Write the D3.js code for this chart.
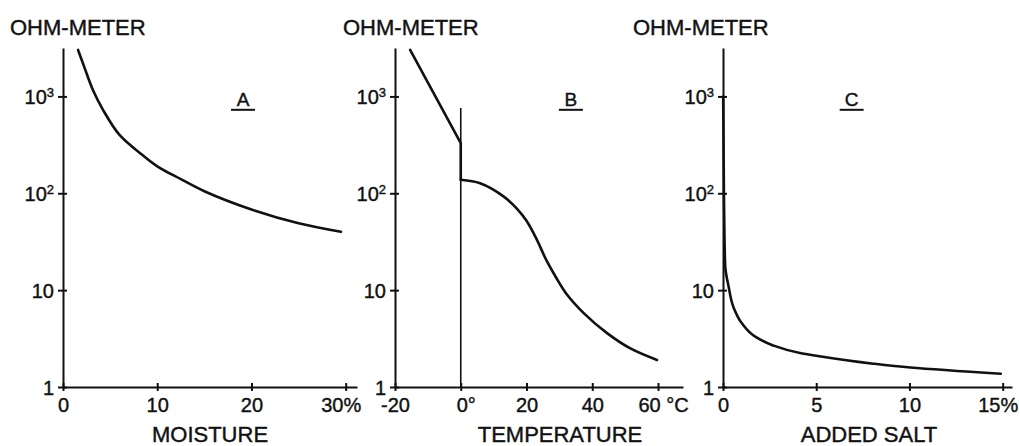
<!DOCTYPE html>
<html>
<head>
<meta charset="utf-8">
<script src="https://cdn.jsdelivr.net/npm/d3@7"></script>
<style>
  html, body { margin: 0; padding: 0; background: #fff; }
  svg { display: block; font-family: "Liberation Sans", Arial, Helvetica, sans-serif; }
  svg text { fill: #111; stroke: #111; stroke-width: 0.4px; }
  .axis path, .axis line { stroke: #111; stroke-width: 2; }
  .axis text { font-size: 20px; }
</style>
</head>
<body>
<svg id="chart"></svg>
<script>
// Soil resistivity vs. moisture / temperature / added salt (three log panels)

// ── Data ───────────────────────────────────────────────────────────────────
const moisturePct = [1.6, 2.3, 3.2, 4.2, 6.0, 8.5, 10, 12.5, 15, 20, 25, 29.5];
const resistMoisture = [3020, 1960, 1150, 740, 400, 245, 190, 140, 105, 68, 49, 40];

// frozen branch (straight on log scale) then drop at 0°
const tempFrozen = [-15.4, 0, 0];
const resistFrozen = [3020, 330, 138];
const tempThawed = [0, 5.9, 13, 17, 20, 23, 26, 29, 32, 37.4, 44.5, 51.6, 59.7];
const resistThawed = [138, 127, 93, 70, 52, 34, 20.5, 13.5, 9.3, 5.8, 3.6, 2.5, 1.9];
const freezeLineTop = 760;

const saltPct = [0.01, 0.05, 0.08, 0.12, 0.30, 0.57, 1.02, 1.73, 2.62, 4.19, 5.0, 8.06, 10.05, 14.9];
const resistSalt = [1000, 100, 35, 17.5, 10.9, 6.6, 4.53, 3.31, 2.72, 2.23, 2.1, 1.74, 1.59, 1.37];

const yTickValues = [1, 10, 100, 1000];
const yTickBase = ['1', '10', '10', '10'];
const yTickExp = ['', '', '2', '3'];

const moistureTicks = [0, 10, 20, 30];
const moistureTickLabels = ['0', '10', '20', '30%'];
const tempTicks = [-20, 0, 20, 40, 60];
const tempTickLabels = ['-20', '0°', '20', '40', '60 °C'];
const saltTicks = [0, 5, 10, 15];
const saltTickLabels = ['0', '5', '10', '15%'];

const panelLetters = ['A', 'B', 'C'];
const axisTitles = ['MOISTURE', 'TEMPERATURE', 'ADDED SALT'];
const yTitle = 'OHM-METER';

// ── Layout ────────────────────────────────────────────────────────────────
const W = 1020, H = 446;
const svg = d3.select('#chart').attr('width', W).attr('height', H);
svg.append('rect').attr('width', W).attr('height', H).attr('fill', '#fff');

const y = d3.scaleLog().domain([1, Math.pow(10, 3.5)]).range([387, 48]);

const panels = [
    { domain: [0, 31.2],    range: [63, 357],  ticks: moistureTicks, labels: moistureTickLabels,
      titleX: 10,  labelX: 210, letterAt: [19.1, 800] },
    { domain: [-20, 67.6],  range: [395, 683], ticks: tempTicks, labels: tempTickLabels,
      titleX: 343, labelX: 560, letterAt: [33.5, 800] },
    { domain: [0, 15.5],    range: [723, 1012], ticks: saltTicks, labels: saltTickLabels,
      titleX: 633, labelX: 869, letterAt: [6.9, 800] },
];

const line = d3.line().curve(d3.curveCatmullRom.alpha(0.5));

panels.forEach((p, i) => {
    const x = d3.scaleLinear().domain(p.domain).range(p.range);
    p.x = x;
    const g = svg.append('g');

    // y axis, ticks crossing the line
    const yAx = g.append('g').attr('class', 'axis')
        .attr('transform', `translate(${p.range[0]},0)`)
        .call(d3.axisLeft(y).tickValues(yTickValues).tickSize(5).tickSizeOuter(0).tickFormat(() => ''));
    yAx.selectAll('.tick line').attr('x2', -5).attr('x1', 4);
    yAx.selectAll('.tick').append('text')
        .attr('x', -9).attr('dy', '0.35em')
        .attr('text-anchor', 'end')
        .each(function(d, k) {
            const t = d3.select(this);
            t.append('tspan').text(yTickBase[k]);
            if (yTickExp[k]) {
                t.append('tspan').attr('font-size', '13px').attr('dy', '-7').text(yTickExp[k]);
            }
        });

    // x axis
    const xAx = g.append('g').attr('class', 'axis')
        .attr('transform', `translate(0,${y(1)})`)
        .call(d3.axisBottom(x).tickValues(p.ticks).tickSize(4).tickSizeOuter(0)
            .tickFormat((d, k) => p.labels[k]));
    xAx.selectAll('.tick line').attr('y1', -4).attr('y2', 4);
    xAx.selectAll('.tick text').attr('y', 11).attr('dy', '0.71em')
        .attr('dx', function() {
            const s = this.textContent;
            return s.endsWith('%') ? -5 : s.includes('°') ? 5 : 0;
        });

    // titles
    svg.append('text').attr('x', p.titleX).attr('y', 35)
        .attr('font-size', '22px').text(yTitle);
    svg.append('text').attr('x', p.labelX).attr('y', 442)
        .attr('text-anchor', 'middle').attr('font-size', '22px')
        .text(axisTitles[i]);

    // panel letter, underlined
    const lx = x(p.letterAt[0]), ly = y(p.letterAt[1]);
    svg.append('text').attr('x', lx).attr('y', ly)
        .attr('text-anchor', 'middle').attr('font-size', '19px')
        .text(panelLetters[i]);
    svg.append('line').attr('x1', lx - 12).attr('x2', lx + 12)
        .attr('y1', ly + 4).attr('y2', ly + 4)
        .attr('stroke', '#111').attr('stroke-width', 2);
});

// ── Curves ────────────────────────────────────────────────────────────────
const curve = (xs, ys, sx, shape) => svg.append('path')
    .attr('d', (shape || line)(xs.map((v, k) => [sx(v), y(ys[k])])))
    .attr('fill', 'none').attr('stroke', '#111')
    .attr('stroke-width', 2.6).attr('stroke-linejoin', 'round').attr('stroke-linecap', 'round');

curve(moisturePct, resistMoisture, panels[0].x);

// freezing reference line at 0°
svg.append('line')
    .attr('x1', panels[1].x(0)).attr('x2', panels[1].x(0))
    .attr('y1', y(freezeLineTop)).attr('y2', y(1))
    .attr('stroke', '#111').attr('stroke-width', 1.6);
curve(tempFrozen, resistFrozen, panels[1].x, d3.line());
curve(tempThawed, resistThawed, panels[1].x);

curve(saltPct, resistSalt, panels[2].x, d3.line().curve(d3.curveMonotoneY));
</script>
</body>
</html>
